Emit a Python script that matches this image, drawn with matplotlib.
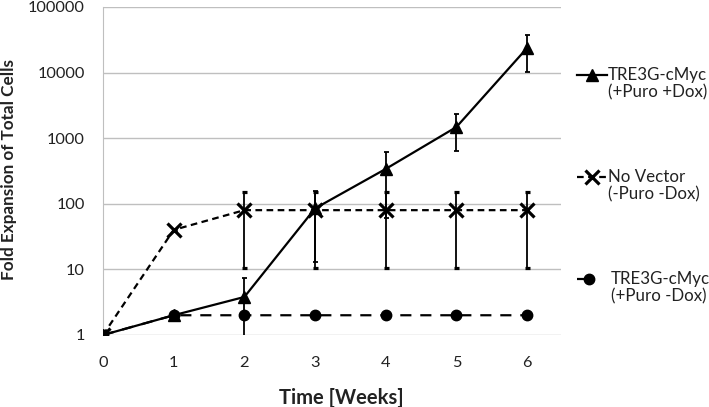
import matplotlib.pyplot as plt
from matplotlib.lines import Line2D

weeks = [0, 1, 2, 3, 4, 5, 6]

# TRE3G-cMyc (+Puro +Dox)
dox_mean = [1, 2, 3.8, 85, 340, 1480, 23700]
dox_err = [0, 0.1, 3.5, 72, 280, 850, 13500]

# No Vector (-Puro -Dox)
novec_mean = [1, 40, 80, 80, 80, 80, 80]
novec_err = [0, 0, 69.5, 69.5, 69.5, 69.5, 69.5]

# TRE3G-cMyc (+Puro -Dox)
nodox_mean = [1, 2, 2, 2, 2, 2, 2]
nodox_err = [0, 0, 0, 0, 0, 0, 0]

labels = [("TRE3G-cMyc", "(+Puro +Dox)"),
          ("No Vector", "(-Puro -Dox)"),
          ("TRE3G-cMyc", "(+Puro -Dox)")]

plt.rcParams["font.family"] = ["Lato", "DejaVu Sans"]

W, H = 709, 407
fig = plt.figure(figsize=(W / 100, H / 100), dpi=100)
# plot area in pixels: x 103..561, y 7..335
ax = fig.add_axes([103 / W, 1 - 335 / H, 458 / W, 328 / H])

styles = [
    dict(marker="^", ms=8.5, linestyle="-"),
    dict(marker="x", ms=9.5, mew=2.3, dashes=(3, 2)),
    dict(marker="o", ms=7.5, dashes=(5, 4)),
]

ax.errorbar(weeks, nodox_mean, yerr=nodox_err, color="black", lw=1.6,
            capsize=1.8, elinewidth=1.3, capthick=1.3, zorder=3, **styles[2])
ax.errorbar(weeks, novec_mean, yerr=novec_err, color="black", lw=1.6,
            capsize=1.8, elinewidth=1.3, capthick=1.3, zorder=4, **styles[1])
ax.errorbar(weeks, dox_mean, yerr=dox_err, color="black", lw=1.6,
            capsize=1.8, elinewidth=1.3, capthick=1.3, zorder=5, **styles[0])

ax.set_yscale("log")
ax.set_ylim(1, 100000)
ax.set_xlim(0, 6.48)
ax.set_xticks(weeks)
ax.set_yticks([1, 10, 100, 1000, 10000, 100000])
ax.set_yticklabels(["1", "10", "100", "1000", "10000", "100000"])
ax.minorticks_off()
ax.tick_params(length=0, labelsize=11.8, colors="#222222")
ax.tick_params(axis="y", pad=13)
ax.tick_params(axis="x", pad=15)
ax.grid(axis="y", color="#bfbfbf", lw=1)
ax.set_axisbelow(True)
for s in ["top", "right", "bottom"]:
    ax.spines[s].set_visible(False)
ax.spines["left"].set_color("#bfbfbf")

ax.set_xlabel("Time [Weeks]", fontweight="bold", fontsize=14.5, color="#222222")
ax.xaxis.set_label_coords((341 - 103) / 458, (335 - 388) / 328)
ax.set_ylabel("Fold Expansion of Total Cells", fontweight="bold", fontsize=12.3,
              color="#222222", va="center")
ax.yaxis.set_label_coords((9 - 103) / 458, (335 - 169) / 328)

# legend drawn by hand, one entry per series
for i, (l1, l2) in enumerate(labels):
    yc = 75 + i * 102
    fy = 1 - yc / H
    line_kw = {k: v for k, v in styles[i].items() if k not in ("marker", "ms", "mew")}
    x_end = 607 if i < 2 else 590
    fig.add_artist(Line2D([577 / W, x_end / W], [fy, fy], color="black", lw=1.6,
                          transform=fig.transFigure, **line_kw))
    mx = 592 if i < 2 else 589
    fig.add_artist(Line2D([mx / W], [fy], color="black", lw=0,
                          marker=styles[i]["marker"], ms=styles[i]["ms"],
                          mew=styles[i].get("mew", 1), transform=fig.transFigure))
    tx = 608 if i < 2 else 611
    fig.text(tx / W, 1 - (80 + i * 102) / H, l1, fontsize=12.2, color="#222222", va="baseline")
    fig.text(tx / W, 1 - (97 + i * 102) / H, l2, fontsize=12.2, color="#222222", va="baseline")

fig.savefig("out.png", dpi=100)
